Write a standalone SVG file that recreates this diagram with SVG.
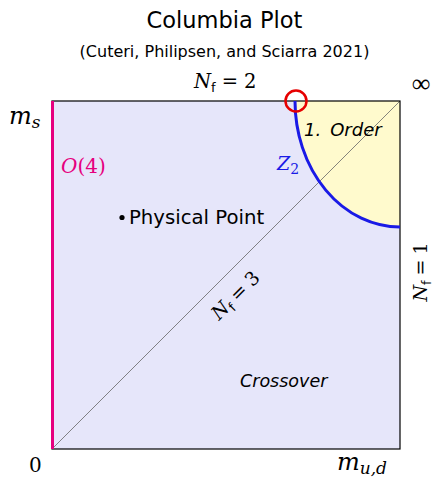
<svg xmlns="http://www.w3.org/2000/svg" width="433" height="477" viewBox="0 0 433 477">
<style>
.sans{font-family:"DejaVu Sans","Liberation Sans",sans-serif;fill:#000}
.math{font-family:"DejaVu Serif","Liberation Serif",serif;font-style:italic;fill:#000}
.rm{font-family:"DejaVu Serif","Liberation Serif",serif;font-style:normal}
.sub{font-family:"DejaVu Sans","Liberation Sans",sans-serif;font-style:normal}
</style>
<rect width="433" height="477" fill="#fff"/>
<g id="plot">
<rect x="52" y="101" width="348" height="348" fill="#e6e6fa"/>
<path d="M295,101 A105,126 0 0 0 400,227 L400,101 Z" fill="#fffacd"/>
<line x1="52" y1="449" x2="400" y2="101" stroke="#666" stroke-width="0.8"/>
<rect x="52" y="101" width="348" height="348" fill="none" stroke="#000" stroke-width="1.2"/>
</g>
<g id="connectors">
<line id="o4-line" x1="52.5" y1="101" x2="52.5" y2="449" stroke="#e6007e" stroke-width="3"/>
<path id="z2-curve" d="M295,101 A105,126 0 0 0 400,227" fill="none" stroke="#1a1ae6" stroke-width="3"/>
</g>
<g id="tricritical">
<circle cx="296" cy="101" r="10.5" fill="none" stroke="#e60000" stroke-width="2.5"/>
</g>
<g id="title">
<text x="224.5" y="28" text-anchor="middle" class="sans" font-size="22.5">Columbia Plot</text>
<text x="224.5" y="57" text-anchor="middle" class="sans" font-size="16">(Cuteri, Philipsen, and Sciarra 2021)</text>
</g>
<g id="labels">
<text x="194" y="88" class="math" font-size="19.5">N<tspan class="sub" font-size="13" dy="4">f</tspan><tspan class="rm" dy="-4" dx="6">=</tspan><tspan class="rm" dx="6">2</tspan></text>
<text x="421" y="92" text-anchor="middle" font-family="'Liberation Serif',serif" font-size="26">∞</text>
<text x="9" y="124" class="math" font-size="24">m<tspan font-size="17" dy="4">s</tspan></text>
<text x="61" y="173" class="math" font-size="20" style="fill:#e6007e">O<tspan class="rm">(4)</tspan></text>
<text x="277" y="170" class="math" font-size="19" style="fill:#1a1ae6">Z<tspan class="rm" font-size="14" dy="4">2</tspan></text>
<text x="304" y="136" class="sans" font-size="18" font-style="italic">1.<tspan dx="9">Order</tspan></text>
<g id="physical-point">
<circle cx="122" cy="217.5" r="2.6" fill="#000"/>
<text x="129" y="224" class="sans" font-size="19.7">Physical Point</text>
</g>
<text transform="translate(240,300) rotate(-45)" text-anchor="middle" class="math" font-size="19">N<tspan class="sub" font-size="13" dy="4">f</tspan><tspan class="rm" dy="-4" dx="5">=</tspan><tspan class="rm" dx="5">3</tspan></text>
<text transform="translate(427,272) rotate(-90)" text-anchor="middle" class="math" font-size="19">N<tspan class="sub" font-size="13" dy="4">f</tspan><tspan class="rm" dy="-4" dx="5">=</tspan><tspan class="rm" dx="5">1</tspan></text>
<text x="240" y="387" class="sans" font-size="17.5" font-style="italic">Crossover</text>
<text x="29" y="472" class="rm" font-size="20">0</text>
<text x="337" y="470" class="math" font-size="24">m<tspan font-size="17" dy="4">u,d</tspan></text>
</g>
</svg>
